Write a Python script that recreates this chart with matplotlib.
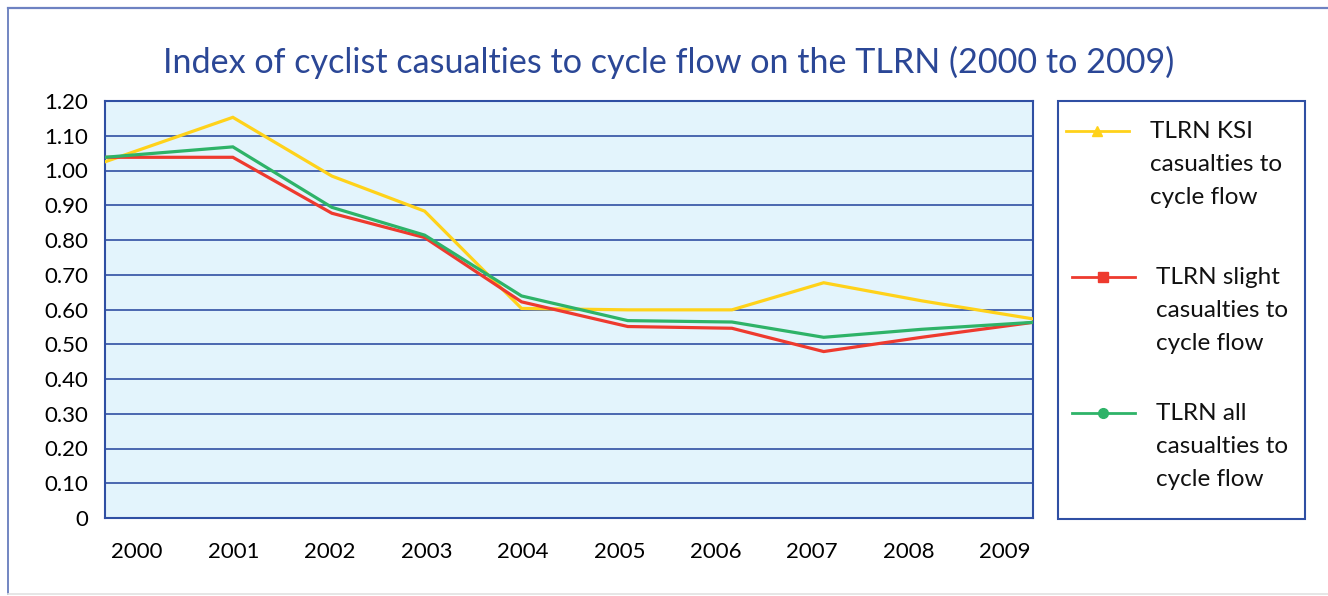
import numpy as np
import matplotlib.pyplot as plt
from matplotlib.lines import Line2D
from matplotlib.patches import Rectangle

# ---------------- data ----------------
years = ['2000', '2001', '2002', '2003', '2004', '2005', '2006', '2007', '2008', '2009']
# where each point sits along the x axis (read off the chart, not perfectly even)
point_pos = [2000.0, 2001.24, 2002.20, 2003.10, 2004.04, 2005.07, 2006.08, 2006.97, 2007.92, 2009.0]
ksi = [1.025, 1.153, 0.984, 0.883, 0.603, 0.599, 0.599, 0.677, 0.625, 0.573]
slight = [1.038, 1.038, 0.877, 0.807, 0.622, 0.551, 0.546, 0.479, 0.520, 0.563]
all_cas = [1.038, 1.068, 0.894, 0.814, 0.639, 0.568, 0.564, 0.520, 0.543, 0.563]

series_names = ['TLRN KSI\ncasualties to\ncycle flow',
                'TLRN slight\ncasualties to\ncycle flow',
                'TLRN all\ncasualties to\ncycle flow']
series_values = [ksi, slight, all_cas]
series_colors = ['#FFD21A', '#EE3A2E', '#2EB368']
series_markers = ['^', 's', 'o']

ytick_vals = np.round(np.arange(0, 1.21, 0.1), 2)
ytick_labels = ['0'] + [f'{v:.2f}' for v in ytick_vals[1:]]

# ---------------- style ----------------
plt.rcParams['font.family'] = ['Lato', 'DejaVu Sans']
grid_col = '#2F4FA3'
title_col = '#2B4796'

fig = plt.figure(figsize=(13.28, 5.96), dpi=100)
W, H = 1328, 596

def fx(px):
    return px / W

def fy(py):
    return 1 - py / H

# outer frame
fig.add_artist(Line2D([fx(8), fx(8)], [fy(8), fy(594)], color='#5A72B8', lw=1.2))
fig.add_artist(Line2D([fx(8), 1.0], [fy(8), fy(8)], color='#6E82C2', lw=1.6))
fig.add_artist(Line2D([fx(8), 1.0], [fy(594), fy(594)], color='#E2E2E2', lw=1.2))

ax = fig.add_axes([fx(105), fy(518), fx(1033) - fx(105), fy(101) - fy(518)])
ax.set_facecolor('#E3F4FC')

for vals, col in zip(series_values, series_colors):
    ax.plot(point_pos, vals, color=col, lw=2.3, solid_joinstyle='miter', zorder=3)

ax.set_xlim(point_pos[0], point_pos[-1])
ax.set_ylim(0, 1.2)
ax.set_yticks(ytick_vals)
ax.set_yticklabels(ytick_labels)
ax.yaxis.grid(True, color=grid_col, lw=1.2)
ax.set_axisbelow(True)

# category labels sit slightly inside the plot ends
label_pos = np.linspace(point_pos[0] + 0.31, point_pos[0] + 8.73, len(years))
ax.set_xticks(label_pos)
ax.set_xticklabels(years)
ax.tick_params(axis='x', length=0, pad=17, labelsize=16)
ax.tick_params(axis='y', length=0, pad=12, labelsize=16)

for s in ax.spines.values():
    s.set_color(grid_col)
    s.set_linewidth(1.5)

fig.text(fx(669), fy(62), 'Index of cyclist casualties to cycle flow on the TLRN (2000 to 2009)',
         ha='center', va='center', fontsize=24.6, color=title_col)

# legend box
fig.add_artist(Rectangle((fx(1058), fy(519)), fx(1305) - fx(1058), fy(101) - fy(519),
                         transform=fig.transFigure, fill=False, edgecolor=grid_col, lw=1.5))
leg_y = [131, 277, 413]
leg_x0 = [1066, 1072, 1072]
for name, col, mk, ly, lx in zip(series_names, series_colors, series_markers, leg_y, leg_x0):
    fig.add_artist(Line2D([fx(lx), fx(lx + 63)], [fy(ly), fy(ly)], color=col, lw=2))
    fig.add_artist(Line2D([fx(lx + 31)], [fy(ly)], color=col, marker=mk, ms=7,
                          markeredgecolor=col, lw=0))
    fig.text(fx(lx + 84), fy(ly - 10), name, ha='left', va='top', fontsize=17.5,
             linespacing=1.72, color='#111111', transform=fig.transFigure)

fig.savefig('out.png', dpi=100)
